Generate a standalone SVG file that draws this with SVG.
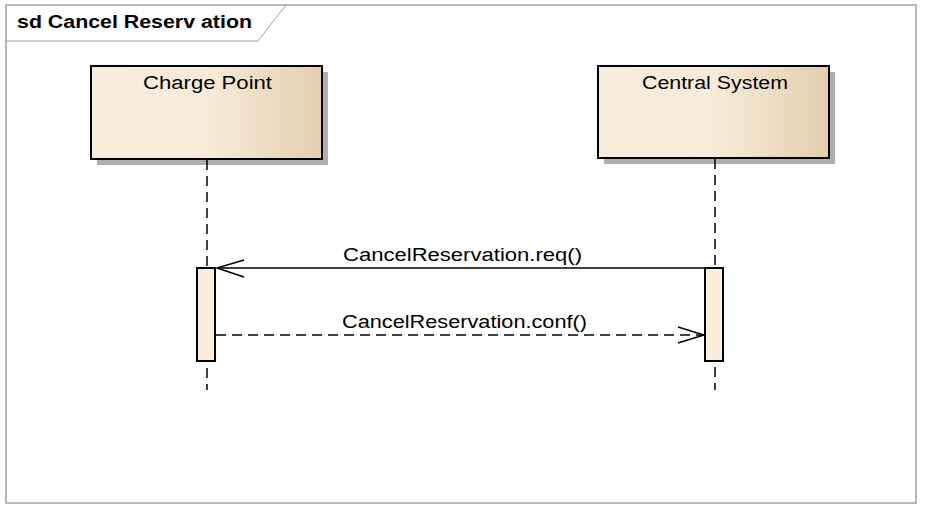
<svg xmlns="http://www.w3.org/2000/svg" width="925" height="511" viewBox="0 0 925 511">
<defs>
<linearGradient id="g" x1="0" y1="0" x2="1" y2="0">
<stop offset="0" stop-color="#f9ecdb"/>
<stop offset="0.5" stop-color="#f8ebd9"/>
<stop offset="1" stop-color="#e3cfae"/>
</linearGradient>
<style>
.t{font-family:"Liberation Sans",Arial,sans-serif;fill:#000;font-size:18px}
.box{fill:url(#g);stroke:#000;stroke-width:2}
.sh{fill:#b0aeb2}
.life{stroke:#000;stroke-width:1.5;stroke-dasharray:10 6;fill:none}
.act{fill:#fbecdb;stroke:#000;stroke-width:2}
.msg{stroke:#000;stroke-width:1.5;fill:none}
</style>
</defs>
<rect width="925" height="511" fill="#fff"/>
<g id="frame">
<rect x="6" y="5" width="910" height="498" fill="none" stroke="#a0a0a0" stroke-width="1.5"/>
<path d="M6 41 H258 L286 5" fill="none" stroke="#a0a0a0" stroke-width="1"/>
<text class="t" x="17" y="28" font-weight="bold" textLength="235" lengthAdjust="spacingAndGlyphs">sd Cancel Reserv ation</text>
</g>
<g id="charge-point">
<rect class="sh" x="97" y="72" width="231" height="93"/>
<rect class="box" x="91" y="66" width="231" height="93"/>
<text class="t" x="143" y="89" textLength="129" lengthAdjust="spacingAndGlyphs">Charge Point</text>
<line class="life" x1="207" y1="160" x2="207" y2="390"/>
<rect class="act" x="197" y="268" width="18" height="93"/>
</g>
<g id="central-system">
<rect class="sh" x="604" y="72" width="231" height="92"/>
<rect class="box" x="598" y="66" width="231" height="92"/>
<text class="t" x="642" y="89" textLength="146" lengthAdjust="spacingAndGlyphs">Central System</text>
<line class="life" x1="715" y1="159" x2="715" y2="390"/>
<rect class="act" x="705" y="268" width="18" height="93"/>
</g>
<g id="connectors">
<line class="msg" x1="705" y1="268" x2="217" y2="268"/>
<path class="msg" d="M244 260 L217 268 L244 277"/>
<text class="t" x="343" y="261" textLength="239" lengthAdjust="spacingAndGlyphs">CancelReservation.req()</text>
<line class="msg" x1="216" y1="335" x2="704" y2="335" stroke-dasharray="10 6"/>
<path class="msg" d="M678 327 L704 335 L678 343"/>
<text class="t" x="342" y="328" textLength="245" lengthAdjust="spacingAndGlyphs">CancelReservation.conf()</text>
</g>
</svg>
